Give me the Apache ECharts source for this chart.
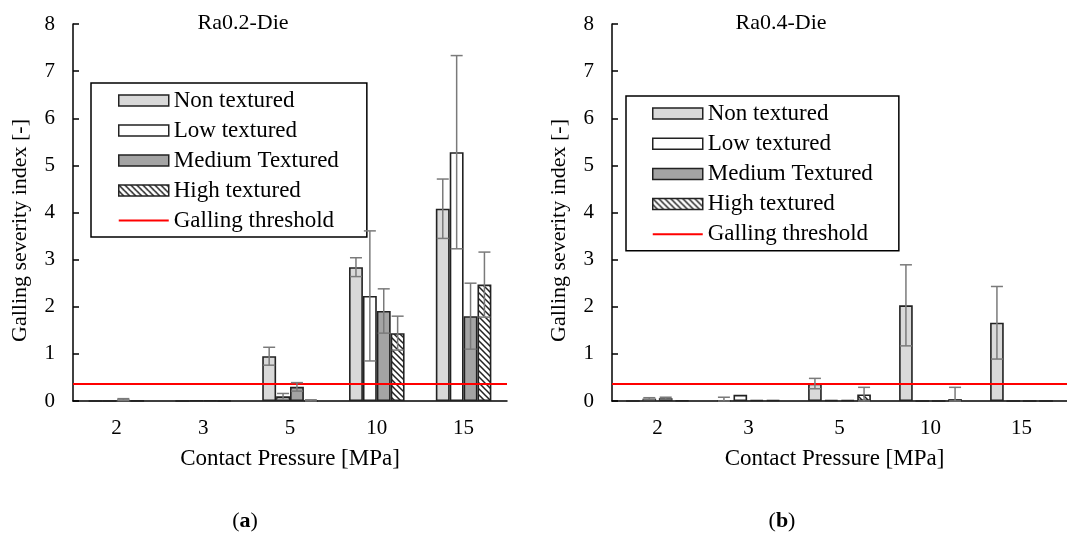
<!DOCTYPE html>
<html>
<head>
<meta charset="utf-8">
<script src="https://cdn.jsdelivr.net/npm/echarts@6/dist/echarts.min.js"></script>
<style>
html,body{margin:0;padding:0;background:#fff;}
#chart{width:1067px;height:534px;}
</style>
</head>
<body>
<div id="chart"></div>
<script>
// ---- data ----
const categories = ['2', '3', '5', '10', '15'];
const seriesNames = ['Non textured', 'Low textured', 'Medium Textured', 'High textured'];
const thresholdName = 'Galling threshold';
const threshold = 0.37;
const yTicks = [0, 1, 2, 3, 4, 5, 6, 7, 8];

// Ra0.2-Die (a)
const a_non = [0, 0, 0.95, 2.84, 4.08];
const a_non_err = [0, 0, 0.19, 0.20, 0.63];
const a_low = [0, 0.01, 0.10, 2.23, 5.28];
const a_low_err = [0, 0, 0.06, 1.38, 2.05];
const a_med = [0.03, 0.01, 0.30, 1.91, 1.80];
const a_med_err = [0.02, 0, 0.09, 0.47, 0.70];
const a_high = [0.005, 0.005, 0.005, 1.44, 2.47];
const a_high_err = [0, 0, 0.02, 0.36, 0.69];

// Ra0.4-Die (b)
const b_non = [0, 0.01, 0.37, 2.03, 1.66];
const b_non_err = [0, 0.07, 0.11, 0.86, 0.77];
const b_low = [0.05, 0.13, 0.02, 0, 0];
const b_low_err = [0.02, 0, 0, 0, 0];
const b_med = [0.06, 0.02, 0.02, 0, 0];
const b_med_err = [0.02, 0, 0, 0, 0];
const b_high = [0.01, 0.02, 0.14, 0.04, 0];
const b_high_err = [0, 0, 0.15, 0.25, 0];

// ---- styling ----
const FONT = '"Liberation Serif", "Times New Roman", serif';
function hatch() {
  const c = document.createElement('canvas');
  c.width = 6; c.height = 6;
  const g = c.getContext('2d');
  g.fillStyle = '#fff'; g.fillRect(0, 0, 6, 6);
  g.strokeStyle = '#222'; g.lineWidth = 1.5;
  g.beginPath();
  g.moveTo(-1, -1); g.lineTo(7, 7);
  g.moveTo(-1, 5); g.lineTo(1, 7);
  g.moveTo(5, -1); g.lineTo(7, 1);
  g.stroke();
  return c;
}
const fills = ['#d9d9d9', '#ffffff', '#a4a4a4', { image: hatch(), repeat: 'repeat' }];

const layouts = [
  { gap: 0, catGap: 0.36 },
  { gap: 0.2, catGap: 0.31 }
];

function errRender(layout) {
  return function (params, api) {
    const ci = api.value(0), v = api.value(1), e = api.value(2), si = api.value(3);
    if (!(e > 0)) return null;
    const c = api.coord([ci, v]);
    const band = api.size([1, 0])[0];
    const n = 4;
    const rem = band * (1 - layout.catGap);
    const bw = rem / (n + (n - 1) * layout.gap);
    const total = n * bw + (n - 1) * layout.gap * bw;
    const x = c[0] - total / 2 + si * bw * (1 + layout.gap) + bw / 2;
    const top = api.coord([ci, v + e])[1];
    const bot = api.coord([ci, Math.max(0, v - e)])[1];
    const hw = 6;
    const st = { stroke: '#7a7a7a', lineWidth: 1.5 };
    return {
      type: 'group',
      children: [
        { type: 'line', shape: { x1: x, y1: top, x2: x, y2: bot }, style: st },
        { type: 'line', shape: { x1: x - hw, y1: top, x2: x + hw, y2: top }, style: st },
        { type: 'line', shape: { x1: x - hw, y1: bot, x2: x + hw, y2: bot }, style: st }
      ]
    };
  };
}

function buildSeries(idx, vals, errs) {
  const out = [];
  const L = layouts[idx];
  vals.forEach((arr, si) => {
    out.push({
      name: seriesNames[si], type: 'bar', xAxisIndex: idx, yAxisIndex: idx,
      data: arr, barGap: (L.gap * 100) + '%', barCategoryGap: (L.catGap * 100) + '%',
      itemStyle: { color: fills[si], borderColor: '#222', borderWidth: 1.6 },
      emphasis: { disabled: true }, animation: false
    });
  });
  out.push({
    name: thresholdName, type: 'line', xAxisIndex: idx, yAxisIndex: idx,
    data: [], symbol: 'none', lineStyle: { color: '#ff0000', width: 2 },
    itemStyle: { color: '#ff0000' },
    markLine: {
      silent: true, symbol: ['none', 'none'], label: { show: false },
      lineStyle: { color: '#ff0000', width: 2, type: 'solid' },
      data: [{ yAxis: threshold }]
    },
    animation: false
  });
  const ed = [];
  errs.forEach((arr, si) => arr.forEach((e, ci) => ed.push([ci, vals[si][ci], e, si])));
  out.push({
    name: 'err' + idx, type: 'custom', xAxisIndex: idx, yAxisIndex: idx,
    renderItem: errRender(L), data: ed, z: 5, silent: true, animation: false,
    encode: { x: 0, y: 1 }
  });
  return out;
}

function xAxis(idx, namePad) {
  return {
    type: 'category', gridIndex: idx, data: categories,
    axisLine: { lineStyle: { color: '#000', width: 1.5 } },
    axisTick: { inside: true, length: 6, lineStyle: { color: '#000', width: 1.5 } },
    axisLabel: { color: '#000', fontSize: 21, fontFamily: FONT, margin: 17 },
    name: 'Contact Pressure [MPa]', nameLocation: 'middle', nameGap: 46,
    nameTextStyle: { color: '#000', fontSize: 23, fontFamily: FONT, padding: namePad }
  };
}
function yAxis(idx) {
  return {
    type: 'value', gridIndex: idx, min: yTicks[0], max: yTicks[yTicks.length - 1], interval: 1,
    axisLine: { show: true, lineStyle: { color: '#000', width: 1.5 } },
    axisTick: { show: true, inside: true, length: 6, lineStyle: { color: '#000', width: 1.5 } },
    splitLine: { show: false },
    axisLabel: { color: '#000', fontSize: 21, fontFamily: FONT, margin: 18 },
    name: 'Galling severity index [-]', nameLocation: 'middle', nameGap: 42, nameRotate: 90,
    nameTextStyle: { color: '#000', fontSize: 22, fontFamily: FONT, padding: [0, 36, 0, 0] }
  };
}
function legend(idx, left, top, pad, gap) {
  return {
    orient: 'vertical', left: left, top: top, padding: pad, itemGap: gap,
    itemWidth: 50, itemHeight: 11,
    data: seriesNames.map(n => ({ name: n, icon: 'rect' })).concat([{
      name: thresholdName, icon: 'path://M0,0H50V2H0Z',
      itemStyle: { color: '#ff0000', borderWidth: 0 }
    }]),
    borderColor: '#000', borderWidth: 1.5, backgroundColor: '#fff',
    textStyle: { color: '#000', fontSize: 23, fontFamily: FONT },
    itemStyle: { borderColor: '#222', borderWidth: 1.5 },
    selectedMode: false
  };
}

const chart = echarts.init(document.getElementById('chart'), null, { renderer: 'canvas' });
chart.setOption({
  backgroundColor: '#fff',
  animation: false,
  grid: [
    { left: 73, right: 560, top: 24, bottom: 133 },
    { left: 612, right: -18, top: 24, bottom: 133 }
  ],
  xAxis: [xAxis(0, [0, 0, 0, 0]), xAxis(1, [0, 10, 0, 0])],
  yAxis: [yAxis(0), yAxis(1)],
  legend: [
    legend(0, 91, 83, [6, 28, 5, 27], 7),
    legend(1, 626, 96, [6, 26, 5, 26], 7.2)
  ],
  graphic: [
    { type: 'text', x: 243, y: 23, style: { text: 'Ra0.2-Die', fontSize: 22, fontFamily: FONT, fill: '#000', align: 'center', verticalAlign: 'middle' } },
    { type: 'text', x: 781, y: 23, style: { text: 'Ra0.4-Die', fontSize: 22, fontFamily: FONT, fill: '#000', align: 'center', verticalAlign: 'middle' } },
    { type: 'text', x: 245, y: 521, style: { text: '({b|a})', fontSize: 22, fontFamily: FONT, fill: '#000', align: 'center', verticalAlign: 'middle', rich: { b: { fontSize: 22, fontFamily: FONT, fontWeight: 'bold', fill: '#000' } } } },
    { type: 'text', x: 782, y: 521, style: { text: '({b|b})', fontSize: 22, fontFamily: FONT, fill: '#000', align: 'center', verticalAlign: 'middle', rich: { b: { fontSize: 22, fontFamily: FONT, fontWeight: 'bold', fill: '#000' } } } }
  ],
  series: [].concat(
    buildSeries(0, [a_non, a_low, a_med, a_high], [a_non_err, a_low_err, a_med_err, a_high_err]),
    buildSeries(1, [b_non, b_low, b_med, b_high], [b_non_err, b_low_err, b_med_err, b_high_err])
  )
});
</script>
</body>
</html>
